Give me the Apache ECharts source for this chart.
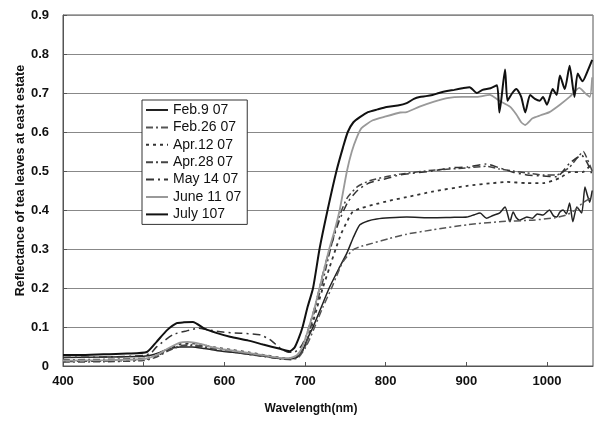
<!DOCTYPE html>
<html>
<head>
<meta charset="utf-8">
<script src="https://cdn.jsdelivr.net/npm/echarts@6/dist/echarts.min.js"></script>
</head>
<body style="margin:0">
<div id="container" style="width:596px;height:421px"></div>
<script>
// reflectance spectra, [wavelength nm, reflectance]
var seriesNames = ['Feb.9 07', 'Feb.26 07', 'Apr.12 07', 'Apr.28 07', 'May 14 07', 'June 11 07', 'July 107'];

var feb9 = [[400,0.022],[450,0.023],[500,0.025],[510,0.028],[520,0.035],[530,0.043],[545,0.049],[560,0.049],[575,0.045],[590,0.04],[610,0.035],[630,0.03],[650,0.025],[665,0.02],[680,0.018],[690,0.022],[697,0.04],[703,0.07],[710,0.1],[720,0.15],[730,0.2],[742,0.25],[752,0.29],[760,0.33],[768,0.362],[778,0.372],[789,0.377],[805,0.38],[826,0.382],[858,0.38],[880,0.381],[901,0.382],[910,0.388],[917,0.392],[925,0.379],[933,0.386],[941,0.392],[948,0.408],[954,0.37],[958,0.395],[962,0.38],[966,0.374],[975,0.382],[982,0.379],[988,0.39],[995,0.387],[1003,0.4],[1008,0.385],[1012,0.382],[1016,0.395],[1020,0.4],[1024,0.39],[1028,0.418],[1032,0.37],[1037,0.408],[1043,0.392],[1047,0.459],[1050,0.438],[1053,0.42],[1056,0.45]];

var feb26 = [[400,0.016],[450,0.017],[500,0.02],[515,0.026],[530,0.04],[545,0.052],[558,0.055],[575,0.05],[590,0.044],[610,0.038],[630,0.031],[650,0.025],[670,0.018],[682,0.016],[692,0.022],[700,0.045],[706,0.07],[712,0.1],[722,0.15],[733,0.2],[739,0.23],[747,0.267],[759,0.297],[770,0.307],[784,0.315],[805,0.327],[826,0.338],[858,0.349],[901,0.362],[941,0.37],[982,0.374],[1010,0.38],[1024,0.387],[1035,0.4],[1044,0.418],[1056,0.433]];

var apr12 = [[400,0.012],[450,0.013],[500,0.016],[515,0.024],[530,0.042],[545,0.056],[560,0.058],[575,0.053],[590,0.047],[610,0.041],[630,0.035],[650,0.028],[670,0.021],[682,0.02],[692,0.028],[700,0.05],[708,0.1],[715,0.15],[722,0.2],[730,0.25],[738,0.3],[745,0.34],[752,0.37],[759,0.395],[770,0.405],[784,0.413],[805,0.424],[826,0.433],[858,0.447],[901,0.462],[933,0.469],[950,0.472],[975,0.469],[995,0.469],[1016,0.482],[1028,0.497],[1044,0.497],[1056,0.52]];

var apr28 = [[400,0.01],[450,0.011],[500,0.014],[515,0.022],[530,0.038],[545,0.05],[560,0.052],[575,0.048],[590,0.042],[610,0.036],[630,0.03],[650,0.024],[670,0.018],[682,0.017],[692,0.026],[700,0.05],[707,0.1],[713,0.15],[720,0.2],[727,0.26],[734,0.32],[742,0.38],[752,0.43],[765,0.46],[780,0.475],[800,0.485],[818,0.492],[858,0.502],[901,0.508],[925,0.512],[941,0.505],[958,0.5],[975,0.495],[995,0.49],[1012,0.49],[1028,0.51],[1038,0.535],[1045,0.55],[1050,0.53],[1056,0.5]];

var may14 = [[400,0.022],[450,0.023],[500,0.027],[510,0.035],[516,0.049],[536,0.08],[553,0.09],[568,0.097],[580,0.093],[598,0.087],[620,0.084],[644,0.08],[657,0.067],[669,0.046],[678,0.036],[686,0.035],[695,0.05],[700,0.07],[705,0.1],[712,0.15],[718,0.2],[725,0.26],[731,0.3],[742,0.37],[753,0.42],[765,0.45],[780,0.47],[800,0.48],[818,0.49],[858,0.5],[880,0.508],[901,0.51],[925,0.518],[941,0.508],[958,0.497],[975,0.49],[995,0.487],[1012,0.485],[1028,0.52],[1043,0.54],[1050,0.52],[1056,0.49]];

var june11 = [[400,0.014],[450,0.015],[500,0.018],[515,0.027],[530,0.045],[545,0.06],[555,0.062],[570,0.057],[586,0.048],[605,0.041],[628,0.034],[650,0.027],[668,0.021],[680,0.02],[690,0.028],[697,0.05],[705,0.1],[712,0.15],[718,0.2],[724,0.25],[730,0.3],[737,0.35],[743,0.4],[752,0.5],[758,0.55],[764,0.585],[770,0.61],[784,0.63],[800,0.64],[818,0.65],[826,0.651],[842,0.665],[860,0.678],[876,0.687],[895,0.69],[913,0.69],[929,0.695],[941,0.68],[954,0.665],[962,0.645],[968,0.625],[973,0.618],[982,0.635],[992,0.643],[1003,0.651],[1016,0.67],[1028,0.69],[1040,0.713],[1047,0.7],[1053,0.69],[1056,0.74]];

var july107 = [[400,0.028],[420,0.028],[450,0.03],[480,0.032],[504,0.036],[516,0.062],[529,0.092],[541,0.11],[550,0.112],[561,0.113],[576,0.095],[590,0.085],[607,0.075],[630,0.065],[648,0.055],[669,0.044],[681,0.038],[687,0.047],[692,0.07],[697,0.1],[703,0.15],[710,0.2],[718,0.3],[728,0.4],[739,0.5],[747,0.56],[753,0.6],[760,0.625],[768,0.638],[778,0.651],[790,0.658],[801,0.664],[815,0.668],[826,0.674],[835,0.685],[842,0.69],[850,0.692],[858,0.695],[866,0.7],[876,0.705],[885,0.708],[895,0.712],[904,0.715],[913,0.7],[920,0.708],[930,0.712],[938,0.72],[941,0.65],[948,0.76],[951,0.68],[957,0.7],[962,0.71],[968,0.69],[973,0.65],[979,0.695],[985,0.685],[991,0.68],[995,0.69],[1000,0.67],[1007,0.71],[1012,0.695],[1016,0.745],[1022,0.71],[1028,0.77],[1034,0.69],[1038,0.75],[1044,0.73],[1050,0.755],[1056,0.785]];

var yTicks = [0, 0.1, 0.2, 0.3, 0.4, 0.5, 0.6, 0.7, 0.8, 0.9];

var allData = [feb9, feb26, apr12, apr28, may14, june11, july107];
var lineStyles = [
    {color: '#222', width: 1.5, type: 'solid'},
    {color: '#555', width: 1.5, type: [7, 3, 2, 3]},
    {color: '#333', width: 1.8, type: [3, 4]},
    {color: '#444', width: 1.5, type: [7, 3, 2, 3]},
    {color: '#333', width: 1.5, type: [8, 4, 2, 4]},
    {color: '#999', width: 1.8, type: 'solid'},
    {color: '#111', width: 2, type: 'solid'}
];

var font = 'Liberation Sans, Arial, sans-serif';
var chart = echarts.init(document.getElementById('container'));

var series = [];
for (var i = 0; i < seriesNames.length; i++) {
    series.push({
        name: seriesNames[i],
        type: 'line',
        data: allData[i],
        symbol: 'none',
        smooth: 0.2,
        lineStyle: lineStyles[i],
        itemStyle: {color: lineStyles[i].color},
        z: i === 6 ? 5 : 2
    });
}

var option = {
    animation: false,
    backgroundColor: '#fff',
    grid: {
        left: 63, right: 3, top: 15, bottom: 55,
        show: true, borderColor: '#555', borderWidth: 1
    },
    legend: {
        orient: 'vertical',
        left: 142,
        top: 100,
        data: seriesNames,
        backgroundColor: '#fff',
        borderColor: '#333',
        borderWidth: 1,
        padding: [3, 6, 3, 3],
        itemWidth: 22,
        itemHeight: 12,
        itemGap: 3.4,
        itemStyle: {color: 'transparent', borderColor: 'transparent', borderWidth: 0, opacity: 0},
        textStyle: {fontFamily: font, fontSize: 14, color: '#111', lineHeight: 14}
    },
    xAxis: {
        type: 'value',
        min: 400,
        max: 1057,
        interval: 100,
        name: 'Wavelength(nm)',
        nameLocation: 'middle',
        nameGap: 37,
        nameTextStyle: {fontFamily: font, fontSize: 12, fontWeight: 'bold', color: '#111', padding: [0, 34, 0, 0]},
        axisLine: {lineStyle: {color: '#555'}},
        axisTick: {inside: true, length: 4, lineStyle: {color: '#555'}},
        axisLabel: {
            fontFamily: font, fontSize: 13, fontWeight: 'bold', color: '#111', margin: 9, showMaxLabel: false,
            formatter: function (v) { return String(v); }
        },
        splitLine: {show: false}
    },
    yAxis: {
        type: 'value',
        min: yTicks[0],
        max: yTicks[yTicks.length - 1],
        interval: 0.1,
        name: 'Reflectance of tea leaves at east estate',
        nameLocation: 'middle',
        nameGap: 36,
        nameMoveOverlap: false,
        nameTextStyle: {fontFamily: font, fontSize: 12.5, fontWeight: 'bold', color: '#111', padding: [0, 0, 0, 20]},
        axisLine: {show: true, lineStyle: {color: '#555'}},
        axisTick: {show: true, inside: true, length: 4, lineStyle: {color: '#555'}},
        axisLabel: {fontFamily: font, fontSize: 13, fontWeight: 'bold', color: '#111', margin: 14},
        splitLine: {show: true, lineStyle: {color: '#888', width: 1}}
    },
    series: series
};

chart.setOption(option);
</script>
</body>
</html>
